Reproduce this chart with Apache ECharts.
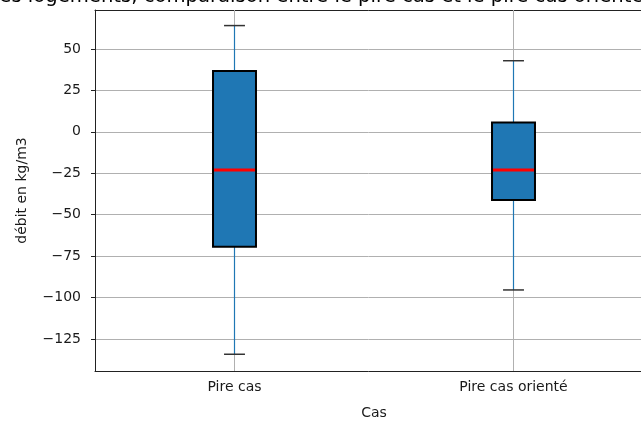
<!DOCTYPE html>
<html><head><meta charset="utf-8">
<script src="https://cdn.jsdelivr.net/npm/echarts@6/dist/echarts.min.js"></script>
<style>html,body{margin:0;padding:0;background:#fff}#c{width:641px;height:425px}</style>
</head><body><div id="c"></div>
<script>
const categories = ['Pire cas', 'Pire cas orienté'];
const whiskerLow = [-134.2, -95.4];
const q1 = [-69.3, -41.1];
const median = [-23.1, -23.1];
const q3 = [36.7, 5.6];
const whiskerHigh = [64.1, 42.9];
const yTicks = [-125, -100, -75, -50, -25, 0, 25, 50];
const yMin = -144.3, yMax = 73.5;
const titleText = 'Débit des logements, comparaison entre le pire cas et le pire cas orienté';
const xName = 'Cas';
const yName = 'débit en kg/m3';

const FONT = '"DejaVu Sans", sans-serif';
const boxData = categories.map((c, i) => [i, whiskerLow[i], q1[i], median[i], q3[i], whiskerHigh[i]]);

function renderItem(params, api) {
  const x = api.value(0);
  const pLow = api.coord([x, api.value(1)]);
  const pQ1 = api.coord([x, api.value(2)]);
  const pMed = api.coord([x, api.value(3)]);
  const pQ3 = api.coord([x, api.value(4)]);
  const pHigh = api.coord([x, api.value(5)]);
  const top = api.coord([x, yMax]);
  const bot = api.coord([x, yMin]);
  const bandW = api.size([1, 0])[0];
  const boxW = bandW * 0.154;
  const capW = bandW * 0.075;
  const cx = Math.round(pMed[0] - 0.5) + 0.5;
  return {
    type: 'group',
    children: [
      {type: 'line', shape: {x1: cx, y1: top[1], x2: cx, y2: bot[1]}, style: {stroke: '#b0b0b0', lineWidth: 1}},
      {type: 'line', shape: {x1: cx, y1: pHigh[1], x2: cx, y2: pQ3[1]}, style: {stroke: '#1f77b4', lineWidth: 1.2}},
      {type: 'line', shape: {x1: cx, y1: pQ1[1], x2: cx, y2: pLow[1]}, style: {stroke: '#1f77b4', lineWidth: 1.2}},
      {type: 'line', shape: {x1: cx - capW / 2, y1: pHigh[1], x2: cx + capW / 2, y2: pHigh[1]}, style: {stroke: '#333', lineWidth: 1.5}},
      {type: 'line', shape: {x1: cx - capW / 2, y1: pLow[1], x2: cx + capW / 2, y2: pLow[1]}, style: {stroke: '#333', lineWidth: 1.5}},
      {type: 'rect', shape: {x: cx - boxW / 2, y: pQ3[1], width: boxW, height: pQ1[1] - pQ3[1]}, style: {fill: '#1f77b4', stroke: '#000', lineWidth: 2}},
      {type: 'line', shape: {x1: cx - boxW / 2 + 1, y1: pMed[1], x2: cx + boxW / 2 - 1, y2: pMed[1]}, style: {stroke: '#ff0000', lineWidth: 3}}
    ]
  };
}

const chart = echarts.init(document.getElementById('c'), null, {renderer: 'canvas'});
chart.setOption({
  animation: false,
  backgroundColor: '#fff',
  textStyle: {fontFamily: FONT},
  grid: {left: 95, top: 10, width: 558, height: 361, show: false, outerBoundsMode: 'none', containLabel: false},
  graphic: [{
    type: 'text', x: -72, y: 7,
    style: {text: titleText, font: '19.6px ' + FONT, fill: '#000', textAlign: 'left', textVerticalAlign: 'bottom'}
  }],
  xAxis: [{
    type: 'category', data: categories,
    axisLine: {onZero: false, lineStyle: {color: '#222', width: 1}},
    axisTick: {alignWithLabel: true, length: 4, lineStyle: {color: '#222'}},
    axisLabel: {color: '#1a1a1a', fontSize: 14, fontFamily: FONT, margin: 9},
    splitLine: {show: false},
    name: xName, nameLocation: 'middle', nameGap: 35,
    nameTextStyle: {color: '#1a1a1a', fontSize: 14, fontFamily: FONT}
  }, {
    type: 'category', data: categories, position: 'top',
    axisLine: {onZero: false, lineStyle: {color: '#222', width: 1}},
    axisTick: {show: false}, axisLabel: {show: false}, splitLine: {show: false}
  }],
  yAxis: {
    type: 'value', min: yMin, max: yMax,
    axisLine: {show: true, onZero: false, lineStyle: {color: '#222', width: 1}},
    axisTick: {show: true, length: 4, customValues: yTicks, lineStyle: {color: '#222'}},
    axisLabel: {customValues: yTicks, color: '#1a1a1a', fontSize: 14, fontFamily: FONT, margin: 14,
      formatter: v => String(v).replace('-', '\u2212')},
    splitLine: {show: true, lineStyle: {color: '#b0b0b0', width: 1}},
    name: yName, nameLocation: 'middle', nameGap: 66, nameRotate: 90,
    nameTextStyle: {color: '#1a1a1a', fontSize: 14, fontFamily: FONT}
  },
  series: [{
    type: 'custom', renderItem: renderItem, data: boxData, xAxisIndex: 0,
    encode: {x: 0, y: [1, 2, 3, 4, 5]}, clip: false
  }]
});
</script></body></html>
